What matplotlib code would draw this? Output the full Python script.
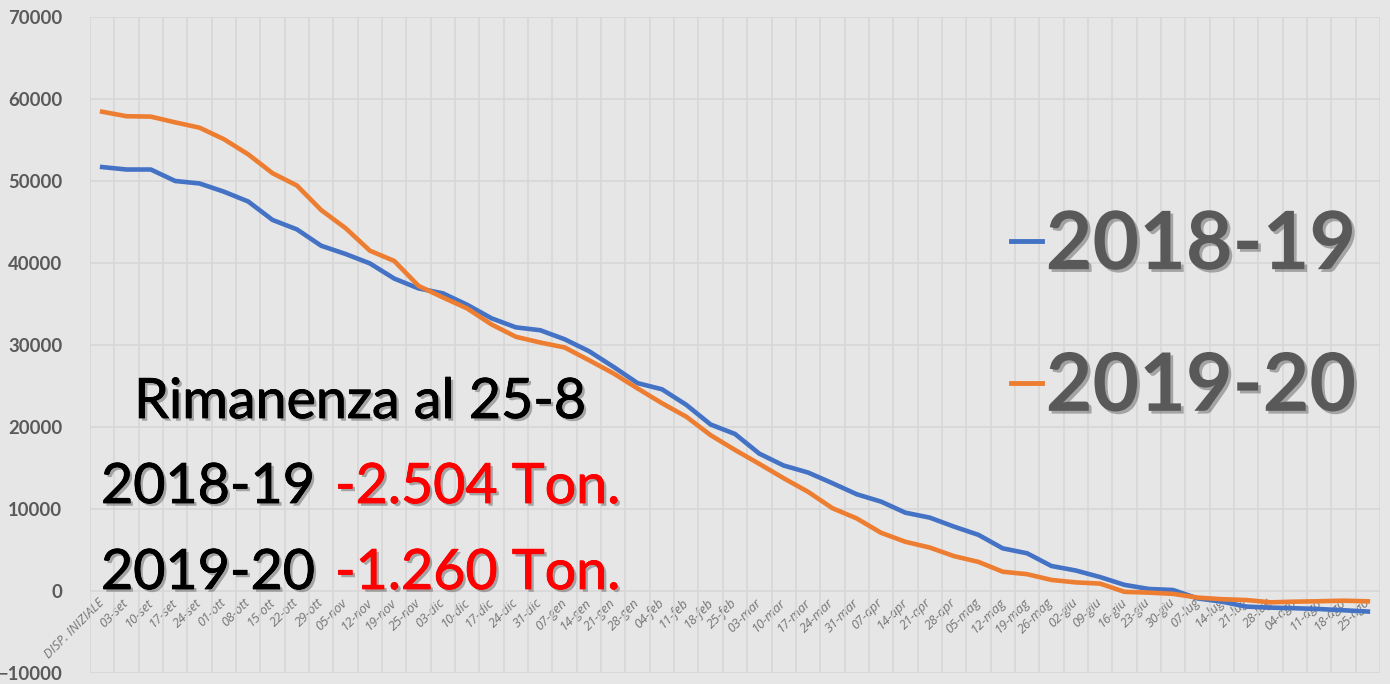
import matplotlib
matplotlib.use("Agg")
import matplotlib.pyplot as plt
import matplotlib.patheffects as pe
from matplotlib.ticker import MultipleLocator, FixedLocator

categories = ["DISP. INIZIALE", "03-set", "10-set", "17-set", "24-set", "01-ott", "08-ott",
              "15-ott", "22-ott", "29-ott", "05-nov", "12-nov", "19-nov", "25-nov", "03-dic",
              "10-dic", "17-dic", "24-dic", "31-dic", "07-gen", "14-gen", "21-gen", "28-gen",
              "04-feb", "11-feb", "18-feb", "25-feb", "03-mar", "10-mar", "17-mar", "24-mar",
              "31-mar", "07-apr", "14-apr", "21-apr", "28-apr", "05-mag", "12-mag", "19-mag",
              "26-mag", "02-giu", "09-giu", "16-giu", "23-giu", "30-giu", "07-lug", "14-lug",
              "21-lug", "28-lug", "04-ago", "11-ago", "18-ago", "25-ago"]

s2018_19 = [51700, 51400, 51400, 50000, 49700, 48700, 47500, 45250, 44100, 42100,
            41100, 39950, 38100, 36900, 36300, 34900, 33250, 32150, 31800, 30700,
            29250, 27350, 25350, 24600, 22700, 20300, 19150, 16750, 15300, 14450,
            13150, 11800, 10900, 9550, 8950, 7850, 6850, 5200, 4600, 3050,
            2500, 1700, 750, 250, 120, -900, -1300, -1900, -2030, -2100,
            -2200, -2350, -2504]

s2019_20 = [58450, 57900, 57850, 57150, 56500, 55100, 53250, 50950, 49450, 46450,
            44250, 41500, 40250, 37200, 35800, 34450, 32500, 31000, 30300, 29700,
            28150, 26550, 24700, 22900, 21250, 19000, 17200, 15500, 13750, 12100,
            10100, 8850, 7100, 6000, 5300, 4250, 3550, 2350, 2050, 1350,
            1050, 900, -100, -200, -350, -800, -1000, -1100, -1380, -1300,
            -1250, -1180, -1260]

series_names = ["2018-19", "2019-20"]
annot_title = "Rimanenza al 25-8"
annot_values = ["-2.504 Ton.", "-1.260 Ton."]

BG = "#E6E6E6"
GRID = "#D6D6D6"
BLUE = "#4472C4"
ORANGE = "#ED7D31"
GRAY = "#595959"

fig = plt.figure(figsize=(13.9, 6.84), dpi=100, facecolor=BG)
ax = fig.add_axes([90 / 1390, 11 / 684, 1290 / 1390, 656 / 684], facecolor=BG)

x = list(range(len(categories)))
l1, = ax.plot(x, s2018_19, color=BLUE, lw=3.3, solid_joinstyle="round", zorder=3)
l2, = ax.plot(x, s2019_20, color=ORANGE, lw=3.3, solid_joinstyle="round", zorder=3)

ax.set_xlim(-0.5, len(categories) - 0.5)
ax.set_ylim(-10000, 70000)
ax.yaxis.set_major_locator(MultipleLocator(10000))
ax.set_xticks(x)
ax.xaxis.set_minor_locator(FixedLocator([i - 0.5 for i in range(len(categories) + 1)]))
ax.grid(True, which="minor", axis="x", color=GRID, lw=1.1)
ax.grid(True, which="major", axis="y", color=GRID, lw=1.1)
ax.set_axisbelow(True)
for s in ax.spines.values():
    s.set_visible(False)
ax.spines["bottom"].set_position(("data", 0))

ax.set_xticklabels(categories, rotation=45, ha="right", va="center", rotation_mode="anchor",
                   fontstyle="italic", fontsize=9.3, color="#747474", family="Open Sans")
ax.tick_params(axis="x", which="both", length=0, pad=7)
ax.tick_params(axis="y", length=0, pad=20, labelsize=13.3, labelcolor=GRAY)
for t in ax.get_yticklabels():
    t.set_fontweight("bold")
    t.set_family("Lato")

shadow = [pe.withSimplePatchShadow(offset=(2, -2), shadow_rgbFace="#555555", alpha=0.45)]

leg = ax.legend([l1, l2], series_names, loc="center right", frameon=False,
                bbox_to_anchor=(1356 / 1390, 1 - 317 / 684), bbox_transform=fig.transFigure,
                prop={"family": "Lato", "weight": "bold", "size": 58},
                handlelength=0.38, handletextpad=0.05, labelspacing=0.84,
                borderpad=0, borderaxespad=0)
for t in leg.get_texts():
    t.set_color(GRAY)
    t.set_path_effects(shadow)
for h in leg.get_lines():
    h.set_linewidth(3.5)


def heavy(color):
    return [pe.withSimplePatchShadow(offset=(2, -2), shadow_rgbFace="#555555", alpha=0.45),
            pe.withStroke(linewidth=0.6, foreground=color)]


tkw = dict(family="Lato", fontsize=40, va="baseline")
fig.text(360 / 1390, 1 - 418 / 684, annot_title, ha="center", color="black",
         path_effects=heavy("black"), **tkw)
fig.text(101 / 1390, 1 - 503 / 684, series_names[0], ha="left", color="black",
         path_effects=heavy("black"), **tkw)
fig.text(335 / 1390, 1 - 503 / 684, annot_values[0], ha="left", color="#FF0000",
         path_effects=heavy("#FF0000"), **tkw)
fig.text(101 / 1390, 1 - 589 / 684, series_names[1], ha="left", color="black",
         path_effects=heavy("black"), **tkw)
fig.text(335 / 1390, 1 - 589 / 684, annot_values[1], ha="left", color="#FF0000",
         path_effects=heavy("#FF0000"), **tkw)

fig.savefig("out.png", dpi=100, facecolor=BG)
